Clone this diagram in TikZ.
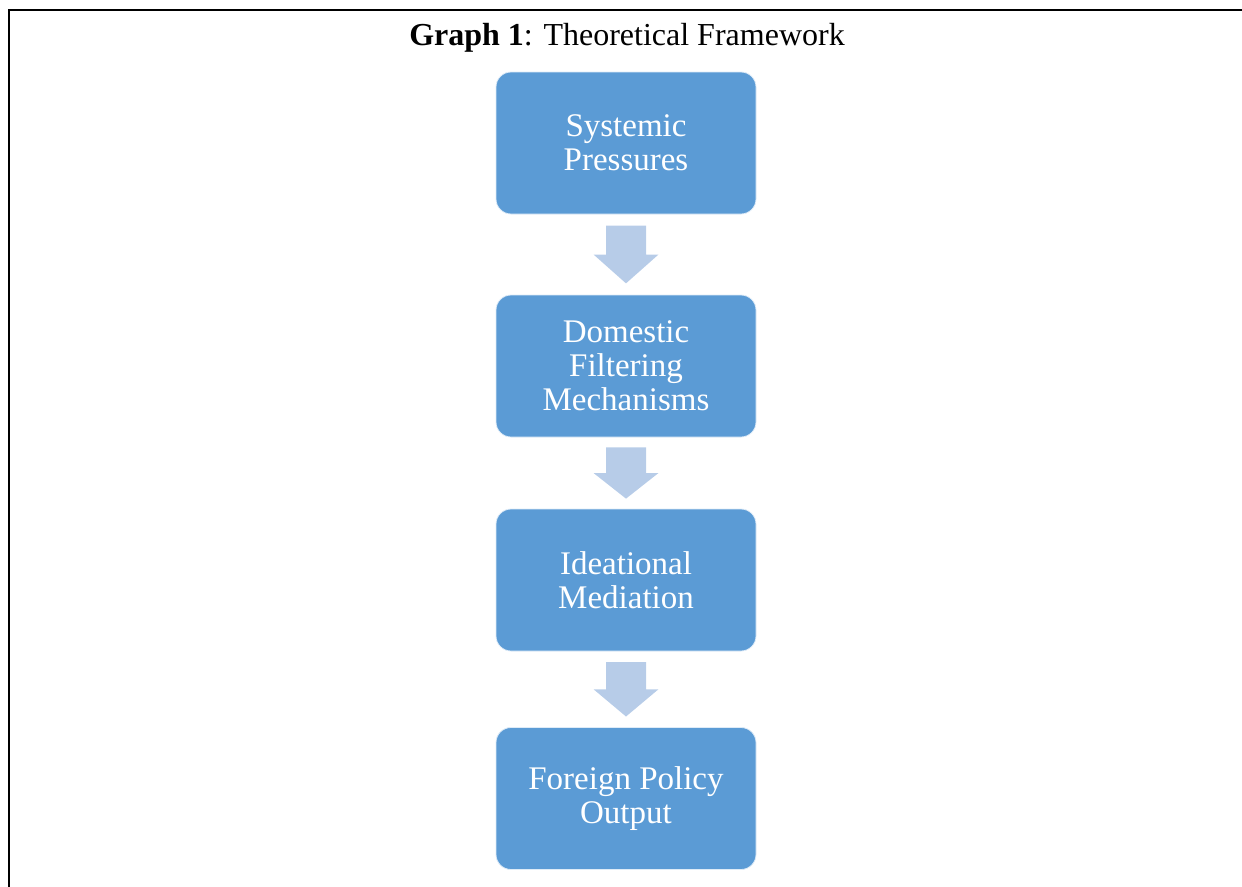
\documentclass[tikz,border=0pt]{standalone}
\usepackage{fontspec}
\setmainfont{Liberation Serif}
\usepackage{tikz}
\usetikzlibrary{calc}

\definecolor{stageblue}{RGB}{91,155,213}
\definecolor{flowblue}{RGB}{183,204,232}

\tikzset{
  stagebox/.style={rounded corners=15pt, fill=stageblue, draw=white!80!stageblue, line width=0.8pt,
    text=white, align=center, minimum width=260pt, minimum height=142pt, inner sep=0pt,
    font=\fontsize{33}{34}\selectfont},
  titletext/.style={anchor=base, inner sep=0pt, font=\fontsize{32}{34}\selectfont},
}

% block arrow between two stages
\newcommand{\stagearrow}[2]{%
  \coordinate (#1-top) at ($(#1.south)!0.14!(#2.north)$);
  \coordinate (#1-tip) at ($(#1.south)!0.86!(#2.north)$);
  \coordinate (#1-mid) at ($(#1-top)!0.5!(#1-tip)$);
  \fill[flowblue] ($(#1-top)+(-20,0)$) -- ($(#1-top)+(20,0)$) -- ($(#1-mid)+(20,0)$)
    -- ($(#1-mid)+(32.5,0)$) -- (#1-tip) -- ($(#1-mid)+(-32.5,0)$) -- ($(#1-mid)+(-20,0)$) -- cycle;
}

\begin{document}
\begin{tikzpicture}[x=1pt,y=1pt,yscale=-1]
  \useasboundingbox (0,0) rectangle (1242,886);

  % frame
  \draw[line width=2pt] (9,887) -- (9,10) -- (1243,10);

  % title
  \node[titletext] (title) at (627,45) {\textbf{Graph 1}: Theoretical Framework};

  % stages
  \node[stagebox] (systemic) at (626,143) {Systemic\\Pressures};
  \node[stagebox] (domestic) at (626,366) {Domestic\\Filtering\\Mechanisms};
  \node[stagebox] (ideational) at (626,580) {Ideational\\Mediation};
  \node[stagebox] (output) at (626,798.5) {Foreign Policy\\Output};

  % arrows
  \stagearrow{systemic}{domestic}
  \stagearrow{domestic}{ideational}
  \stagearrow{ideational}{output}
\end{tikzpicture}
\end{document}
